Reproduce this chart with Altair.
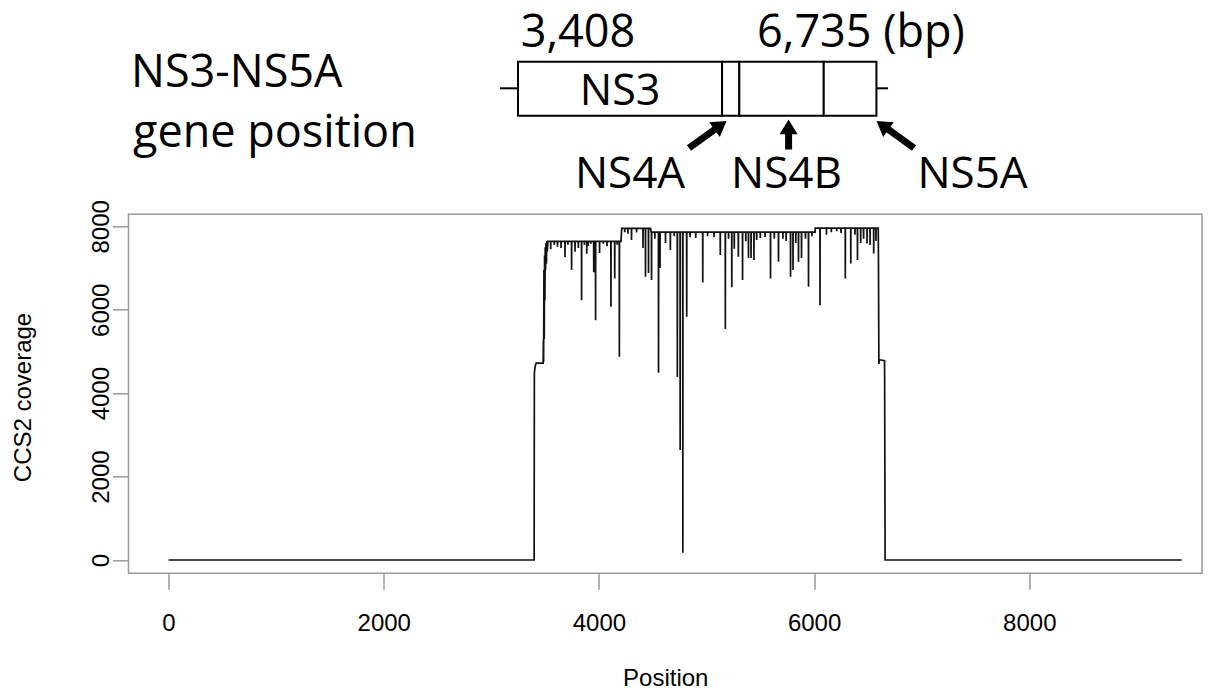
import math
import altair as alt
import pandas as pd

# ---------------- coverage profile ----------------
# leading outline: zero region, first step (~4700) and the ragged rise
outline_pos = [1, 3398, 3400, 3405, 3412, 3418, 3482, 3484, 3486, 3489, 3492,
               3495, 3498, 3501, 3504, 3508, 3512, 3516, 3520]
outline_cov = [0, 0, 4480, 4600, 4690, 4720, 4720, 5280, 4750, 6950, 5300,
               7300, 6230, 7500, 6950, 7600, 7100, 7640, 7400]

# plateaus of the covered region
plateau_start = [3526, 4212, 4486, 6010]
plateau_end = [4205, 4480, 6009, 6596]
plateau_cov = [7640, 7950, 7860, 7955]

# single-position dips below the plateaus
dip_pos = [3552, 3585, 3615, 3648, 3685, 3712, 3746, 3778, 3809, 3839, 3865,
           3887, 3901, 3925, 3952, 3969, 4006, 4040, 4075, 4112, 4147, 4170,
           4190,
           4240, 4270, 4303, 4350, 4410, 4433, 4461,
           4489, 4520, 4554, 4568, 4619, 4664, 4700, 4729, 4755, 4780, 4816,
           4847, 4900, 4965, 5010, 5070, 5128, 5175, 5205, 5235, 5258, 5296,
           5335, 5365, 5390, 5414, 5441, 5466, 5500, 5544, 5595, 5630, 5669,
           5710, 5740, 5781, 5804, 5830, 5855, 5883, 5920, 5948, 5980,
           6055, 6115, 6160, 6210, 6250, 6290, 6341, 6380, 6403, 6433, 6460,
           6492, 6520, 6554, 6575]
dip_cov = [7450, 7550, 7510, 7480, 7260, 7560, 6950, 7390, 7480, 6230, 7560,
           7340, 7530, 7580, 6900, 5750, 7360, 7580, 7520, 6070, 6750, 7560,
           4870,
           7860, 7820, 7670, 7850, 7480, 6790, 6880,
           6710, 7700, 4490, 7000, 7600, 7430, 7760, 4390, 2640, 175, 5830,
           7740, 7720, 6650, 7760, 7740, 7310, 5540, 7700, 6540, 7460, 7270,
           6710, 7640, 7240, 7240, 7190, 7670, 7720, 7740, 6750, 7700, 7150,
           7700, 7650, 6790, 6950, 7600, 7150, 7240, 7700, 6550, 7760,
           6110, 7800, 7860, 7880, 7840, 6750, 7110, 7800, 7190, 7600, 7700,
           7590, 7550, 7350, 7650]

# trailing outline: drop, second step (~4750) and zero region
tail_pos = [6598, 6602, 6606, 6655, 6660, 9416]
tail_cov = [7240, 4700, 4800, 4780, 0, 0]

# ---------------- gene diagram ----------------
gene_name = ["NS3", "NS4A", "NS4B", "NS5A"]
gene_start = [3408, 5302, 5462, 6246]
gene_end = [5302, 5462, 6246, 6735]
pos_labels = ["3,408", "6,735 (bp)"]
title_lines = ["NS3-NS5A", "gene position"]

# ---------------- build the coverage table ----------------
pts = list(zip(outline_pos, outline_cov))
for s, e, c in zip(plateau_start, plateau_end, plateau_cov):
    pts.append((s, c))
    for d, v in zip(dip_pos, dip_cov):
        if s <= d <= e:
            pts += [(d - 1, c), (d, v), (d + 1, c)]
    pts.append((e, c))
pts += list(zip(tail_pos, tail_cov))
cov_df = pd.DataFrame({"pos": [p for p, _ in pts], "cov": [c for _, c in pts],
                       "order": list(range(len(pts)))})

# ---------------- layout ----------------
W, H = 1073.5, 359
PAD_L, PAD_T = 120.5, 206.3
SVG_H = 685
X_DOM = [-372, 9605]
Y_DOM = [-319, 8288]
D_DOM = [-207.5, 9757]          # bp domain of the diagram strip
PLOT_LEFT_PX = 8 + PAD_L
PLOT_TOP_PX = 8 + PAD_T

xs_d = alt.Scale(domain=D_DOM, nice=False, zero=False)
ys_d = alt.Scale(domain=[8, PLOT_TOP_PX], range=[-(PLOT_TOP_PX - 8), 0], nice=False, zero=False)


def bp(px):
    return D_DOM[0] + (px - PLOT_LEFT_PX) / W * (D_DOM[1] - D_DOM[0])


AX_FONT = "Liberation Sans"
D_FONT = "Open Sans"

coverage = alt.Chart(cov_df).mark_line(color="#111111", strokeWidth=1.7).encode(
    x=alt.X("pos:Q", scale=alt.Scale(domain=X_DOM, nice=False, zero=False),
            axis=alt.Axis(values=[0, 2000, 4000, 6000, 8000], format="d", title="Position",
                          labelFont=AX_FONT, labelFontSize=24, labelColor="black",
                          labelBaseline="alphabetic", labelPadding=40.7, labelFlush=False,
                          titleFont=AX_FONT, titleFontSize=24, titleFontWeight="normal",
                          titleColor="black", titleBaseline="alphabetic", titleY=112.5,
                          tickColor="#999999", tickWidth=1.5, tickSize=16,
                          domain=False, grid=False)),
    y=alt.Y("cov:Q", scale=alt.Scale(domain=Y_DOM, nice=False, zero=False),
            axis=alt.Axis(values=[0, 2000, 4000, 6000, 8000], format="d", title="CCS2 coverage",
                          labelFont=AX_FONT, labelFontSize=24, labelColor="black",
                          labelAngle=270, labelAlign="center", labelBaseline="alphabetic",
                          labelPadding=4.5, labelFlush=False, labelOverlap=False,
                          titleFont=AX_FONT, titleFontSize=24, titleFontWeight="normal",
                          titleColor="black", titleAngle=270, titleAlign="center",
                          titleBaseline="alphabetic", titleX=-98.5, titleY=182.7,
                          tickColor="#999999", tickWidth=1.5, tickSize=16,
                          domain=False, grid=False)),
    order="order:Q",
)

BOX_TOP, BOX_BOT, WHISK_Y = 61.7, 115.7, 88.3

gene_df = pd.DataFrame({"name": gene_name, "start": gene_start, "end": gene_end,
                        "top": BOX_TOP, "bot": BOX_BOT})
boxes = alt.Chart(gene_df).mark_rect(fill="white", stroke="black", strokeWidth=2).encode(
    x=alt.X("start:Q", scale=xs_d, axis=None), x2="end:Q",
    y=alt.Y("top:Q", scale=ys_d, axis=None), y2="bot:Q")

whisk_df = pd.DataFrame({"x": [gene_start[0] - 167, gene_end[-1]],
                         "x2": [gene_start[0], gene_end[-1] + 108],
                         "y": [WHISK_Y, WHISK_Y]})
whiskers = alt.Chart(whisk_df).mark_rule(color="black", strokeWidth=2).encode(
    x=alt.X("x:Q", scale=xs_d, axis=None), x2="x2:Q",
    y=alt.Y("y:Q", scale=ys_d, axis=None))

left_txt = pd.DataFrame({
    "x": [bp(131), bp(133), gene_start[0] + 25, bp(757)],
    "y": [86.7, 146.7, 47, 47],
    "t": [title_lines[0], title_lines[1], pos_labels[0], pos_labels[1]]})
txt_left = alt.Chart(left_txt).mark_text(font=D_FONT, fontSize=45, align="left",
                                         baseline="alphabetic", color="black").encode(
    x=alt.X("x:Q", scale=xs_d, axis=None), y=alt.Y("y:Q", scale=ys_d, axis=None), text="t:N")

ns3_txt = pd.DataFrame({"x": [(gene_start[0] + gene_end[0]) / 2], "y": [105], "t": [gene_name[0]]})
txt_ns3 = alt.Chart(ns3_txt).mark_text(font=D_FONT, fontSize=43, align="center",
                                       baseline="alphabetic", color="black").encode(
    x=alt.X("x:Q", scale=xs_d, axis=None), y=alt.Y("y:Q", scale=ys_d, axis=None), text="t:N")

lab_txt = pd.DataFrame({"x": [bp(630), bp(786.5), bp(972.5)], "y": [187.5] * 3,
                        "t": gene_name[1:]})
txt_lab = alt.Chart(lab_txt).mark_text(font=D_FONT, fontSize=44, align="center",
                                       baseline="alphabetic", color="black").encode(
    x=alt.X("x:Q", scale=xs_d, axis=None), y=alt.Y("y:Q", scale=ys_d, axis=None), text="t:N")

# arrows: tail and tip in page pixels
arrows = [((689.0, 148.0), (726.5, 121.0)),
          ((788.6, 149.5), (788.6, 119.5)),
          ((914.0, 148.0), (876.5, 121.0))]
HEAD_R = 9.5
shaft_rows, head_rows = [], []
for (tx, ty), (hx, hy) in arrows:
    ddx, ddy = hx - tx, hy - ty
    L = math.hypot(ddx, ddy)
    ux, uy = ddx / L, ddy / L
    bx, by = hx - ux * 1.4 * HEAD_R, hy - uy * 1.4 * HEAD_R
    shaft_rows.append({"x": bp(tx), "y": ty, "x2": bp(bx), "y2": by})
    cx, cy = hx - ux * HEAD_R, hy - uy * HEAD_R
    ang = math.degrees(math.atan2(ux, -uy)) % 360
    head_rows.append({"x": bp(cx), "y": cy, "ang": ang})

shafts = alt.Chart(pd.DataFrame(shaft_rows)).mark_rule(color="black", strokeWidth=7,
                                                        strokeCap="butt").encode(
    x=alt.X("x:Q", scale=xs_d, axis=None), x2="x2:Q",
    y=alt.Y("y:Q", scale=ys_d, axis=None), y2="y2:Q")

heads = alt.Chart(pd.DataFrame(head_rows)).mark_point(
    shape="M0,-1L0.95,0.55L-0.95,0.55Z", filled=True, fill="black", strokeWidth=0,
    size=(2 * HEAD_R) ** 2, opacity=1).encode(
    x=alt.X("x:Q", scale=xs_d, axis=None), y=alt.Y("y:Q", scale=ys_d, axis=None),
    angle=alt.Angle("ang:Q", scale=None))

chart = alt.layer(coverage, boxes, whiskers, txt_left, txt_ns3, txt_lab, shafts, heads).resolve_scale(
    x="independent", y="independent"
).properties(
    width=W, height=H,
    autosize=alt.AutoSizeParams(type="none"),
    padding={"left": PAD_L, "top": PAD_T, "right": 1216 - 16 - PAD_L - W, "bottom": SVG_H - PAD_T - H},
    background="white",
).configure_view(stroke="#999999", strokeWidth=1.5)

chart.save("out.html", embed_options={"renderer": "svg", "actions": False})
